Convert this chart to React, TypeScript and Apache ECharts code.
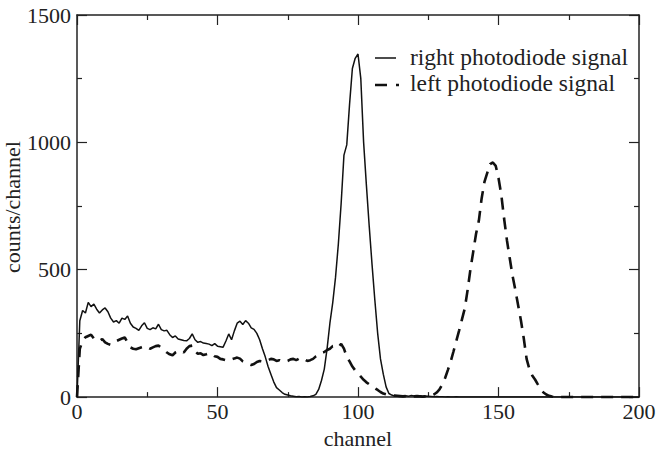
import React, { useEffect, useRef } from "react";
import * as echarts from "echarts";

const xTicks = [0, 50, 100, 150, 200];
const yTicks = [0, 500, 1000, 1500];

// counts per channel, channels 0..200
const rightSignal = [
  0, 300, 340, 330, 372, 355, 365, 345, 330, 342,
  350, 335, 310, 295, 300, 290, 310, 305, 318, 290,
  275, 270, 262, 280, 292, 270, 265, 272, 268, 286,
  265, 260, 262, 245, 234, 240, 228, 225, 222, 221,
  230, 248, 225, 215, 218, 212, 210, 208, 202, 210,
  200, 198, 196, 220, 248, 225, 260, 290, 298, 285,
  300, 290, 272, 266, 250, 225, 190, 158, 120, 90,
  60, 37, 28, 18, 11, 8, 5, 3, 1, 2,
  0, 1, 0, 2, 5, 11, 30, 65, 110, 190,
  290, 370, 470, 600, 760, 950, 990, 1150, 1290, 1330,
  1347, 1250, 1000, 830, 670, 520, 380, 250, 150, 90,
  40, 14, 8, 4, 3, 4, 2, 5, 3, 6,
  4, 3, 5, 2, 4, 3, 2, 1, 2, 1,
  1, 0, 1, 0, 0, 1, 0, 0, 0, 0,
  0, 0, 0, 0, 0, 0, 0, 0, 0, 0,
  0, 0, 0, 0, 0, 0, 0, 0, 0, 0,
  0, 0, 0, 0, 0, 0, 0, 0, 0, 0,
  0, 0, 0, 0, 0, 0, 0, 0, 0, 0,
  0, 0, 0, 0, 0, 0, 0, 0, 0, 0,
  0, 0, 0, 0, 0, 0, 0, 0, 0, 0,
  0,
];

const leftSignal = [
  0, 190, 220, 235, 240, 245, 230, 225, 220, 228,
  215, 209, 205, 212, 220, 225, 230, 234, 215, 195,
  190, 188, 192, 196, 200, 196, 190, 195, 200, 202,
  195, 185, 175, 168, 164, 175, 180, 183, 175, 190,
  200, 202, 180, 170, 172, 165, 168, 172, 170, 160,
  158, 150, 148, 145, 150, 148, 152, 155, 151, 140,
  135, 130, 126, 130, 138, 142, 140, 139, 145, 150,
  148, 142, 145, 140, 139, 142, 148, 150, 145, 151,
  155, 148, 142, 145, 150, 160, 168, 175, 177, 185,
  190, 200, 202, 195, 209, 190, 158, 140, 120, 105,
  94, 80, 68, 58, 50, 43, 35, 28, 20, 14,
  11, 9, 7, 6, 5, 4, 3, 4, 3, 2,
  3, 4, 3, 2, 3, 4, 5, 10, 18, 30,
  50, 75, 107, 140, 180, 221, 262, 305, 348, 420,
  501, 570, 640, 692, 780, 845, 880, 915, 921, 908,
  860, 794, 700, 616, 545, 476, 420, 360, 300, 230,
  150, 110, 85, 69, 50, 32, 18, 10, 5, 2,
  0, 0, 0, 0, 0, 0, 0, 0, 0, 0,
  0, 0, 0, 0, 0, 0, 0, 0, 0, 0,
  0, 0, 0, 0, 0, 0, 0, 0, 0, 0,
  0,
];

const seriesNames = ["right photodiode signal", "left photodiode signal"];

const FONT = "Liberation Serif";
const INK = "#222";

export default function App() {
  const ref = useRef<HTMLDivElement>(null);
  useEffect(() => {
    if (!ref.current) return;
    const chart = echarts.init(ref.current, undefined, { renderer: "svg" });
    const toPairs = (arr: number[]) => arr.map((v, i) => [i, v]);
    const fmt = (v: number) => String(v);
    const axisCommon = {
      type: "value" as const,
      axisLine: { show: true, onZero: false, lineStyle: { color: INK, width: 1.5 } },
      axisTick: { show: true, inside: true, length: 10, lineStyle: { color: INK, width: 1.2 } },
      minorTick: { show: true, splitNumber: 2, length: 5, lineStyle: { color: INK, width: 1.2 } },
      splitLine: { show: false },
    };
    chart.setOption({
      animation: false,
      backgroundColor: "#fff",
      grid: { left: 77, right: 20, top: 15, bottom: 46 },
      xAxis: [
        {
          ...axisCommon,
          min: xTicks[0],
          max: xTicks[xTicks.length - 1],
          interval: 50,
          position: "bottom",
          axisLabel: { color: INK, fontFamily: FONT, fontSize: 22, margin: 3, formatter: fmt },
          name: "channel",
          nameLocation: "middle",
          nameGap: 26,
          nameTextStyle: { color: INK, fontFamily: FONT, fontSize: 22 },
        },
        {
          ...axisCommon,
          min: xTicks[0],
          max: xTicks[xTicks.length - 1],
          interval: 50,
          position: "top",
          axisLabel: { show: false },
        },
      ],
      yAxis: [
        {
          ...axisCommon,
          min: yTicks[0],
          max: yTicks[yTicks.length - 1],
          interval: 500,
          position: "left",
          axisLabel: { color: INK, fontFamily: FONT, fontSize: 22, margin: 6, formatter: fmt },
        },
        {
          ...axisCommon,
          min: yTicks[0],
          max: yTicks[yTicks.length - 1],
          interval: 500,
          position: "right",
          axisLabel: { show: false },
        },
      ],
      series: [
        {
          name: seriesNames[0],
          type: "line",
          data: toPairs(rightSignal),
          showSymbol: false,
          lineStyle: { color: "#111", width: 1.5 },
          z: 3,
        },
        {
          name: seriesNames[1],
          type: "line",
          data: toPairs(leftSignal),
          showSymbol: false,
          lineStyle: { color: "#111", width: 2.6, type: [12, 8] },
          z: 2,
        },
      ],
      graphic: [
        {
          type: "text",
          x: 12,
          y: 207,
          rotation: Math.PI / 2,
          style: {
            text: "counts/channel",
            fontFamily: FONT,
            fontSize: 22,
            fill: INK,
            align: "center",
            verticalAlign: "middle",
          },
        },
        {
          type: "line",
          shape: { x1: 375, y1: 58, x2: 396, y2: 58 },
          style: { stroke: "#111", lineWidth: 1.5 },
        },
        {
          type: "line",
          shape: { x1: 375, y1: 85, x2: 399, y2: 85 },
          style: { stroke: "#111", lineWidth: 2.6, lineDash: [12, 9] },
        },
        {
          type: "text",
          x: 410,
          y: 57,
          style: {
            text: seriesNames[0],
            fontFamily: FONT,
            fontSize: 23.5,
            fill: INK,
            verticalAlign: "middle",
          },
        },
        {
          type: "text",
          x: 410,
          y: 83,
          style: {
            text: seriesNames[1],
            fontFamily: FONT,
            fontSize: 23.5,
            fill: INK,
            verticalAlign: "middle",
          },
        },
      ],
    });
    return () => chart.dispose();
  }, []);
  return (
    <div
      ref={ref}
      style={{ position: "fixed", left: 0, top: 0, width: 659, height: 454 }}
    />
  );
}
